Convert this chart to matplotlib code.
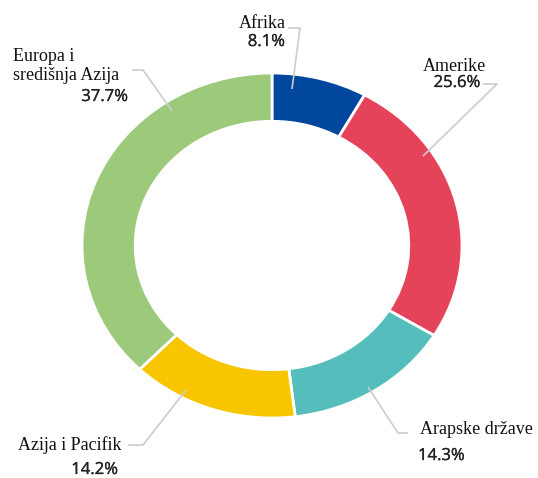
import matplotlib.pyplot as plt
import matplotlib.patheffects as pe

regions = ['Afrika', 'Amerike', 'Arapske države', 'Azija i Pacifik', 'Europa i\nsredišnja Azija']
shares = [8.1, 25.6, 14.3, 14.2, 37.7]
pct_labels = ['8.1%', '25.6%', '14.3%', '14.2%', '37.7%']
colors = ['#00479d', '#e5435a', '#56bdbd', '#f7c600', '#9dc97a']

W, H = 538, 478
# donut centre and radii in pixels (the ring is a bit wider than tall)
CX, CY, RX, RY = 272, 245.5, 190, 172.5


def px(x, y):
    # pixel position (origin top left) -> data coordinates
    return (x - CX) / RX, (CY - y) / RY


# label layout in pixels: (name x, name y, name ha), (pct x, pct y, pct ha)
name_pos = [(286, 24, 'right'), (454, 67, 'center'), (420, 430, 'left'),
            (18, 445, 'left'), (13, 66, 'left')]
pct_pos = [(285, 42, 'right'), (457, 83, 'center'), (418, 456, 'left'),
           (118, 470, 'right'), (128, 97, 'right')]
# leader lines in pixels
leaders = [
    [(288, 28), (300, 28), (292, 89)],
    [(483, 84), (497, 84), (423, 156)],
    [(408, 433), (398, 433), (368, 387)],
    [(128, 445), (143, 445), (186, 390)],
    [(132, 70), (143, 70), (172, 111)],
]

fig = plt.figure(figsize=(W / 100, H / 100), dpi=100)
ax = fig.add_axes([0, 0, 1, 1])
ax.pie(shares, colors=colors, startangle=90, counterclock=False, radius=1,
       wedgeprops=dict(width=0.28, edgecolor='white', linewidth=2))
ax.set_aspect('auto')
x0, y1 = px(0, 0)
x1, y0 = px(W, H)
ax.set_xlim(x0, x1)
ax.set_ylim(y0, y1)
ax.axis('off')

# a very thin stroke gives the percentages a slightly heavier weight
medium = [pe.withStroke(linewidth=0.2, foreground='#222222')]

for i in range(len(regions)):
    pts = [px(*p) for p in leaders[i]]
    ax.plot([p[0] for p in pts], [p[1] for p in pts], color='#cccccc', lw=1.2,
            solid_capstyle='butt', zorder=5)
    nx, ny, nha = name_pos[i]
    ax.text(*px(nx, ny), regions[i], ha=nha, va='center', fontsize=13,
            family='Liberation Serif', color='#111111', linespacing=1.2)
    qx, qy, qha = pct_pos[i]
    ax.text(*px(qx, qy), pct_labels[i], ha=qha, va='center', fontsize=12,
            family='Open Sans', color='#222222', path_effects=medium)

fig.savefig('out.png', dpi=100)
